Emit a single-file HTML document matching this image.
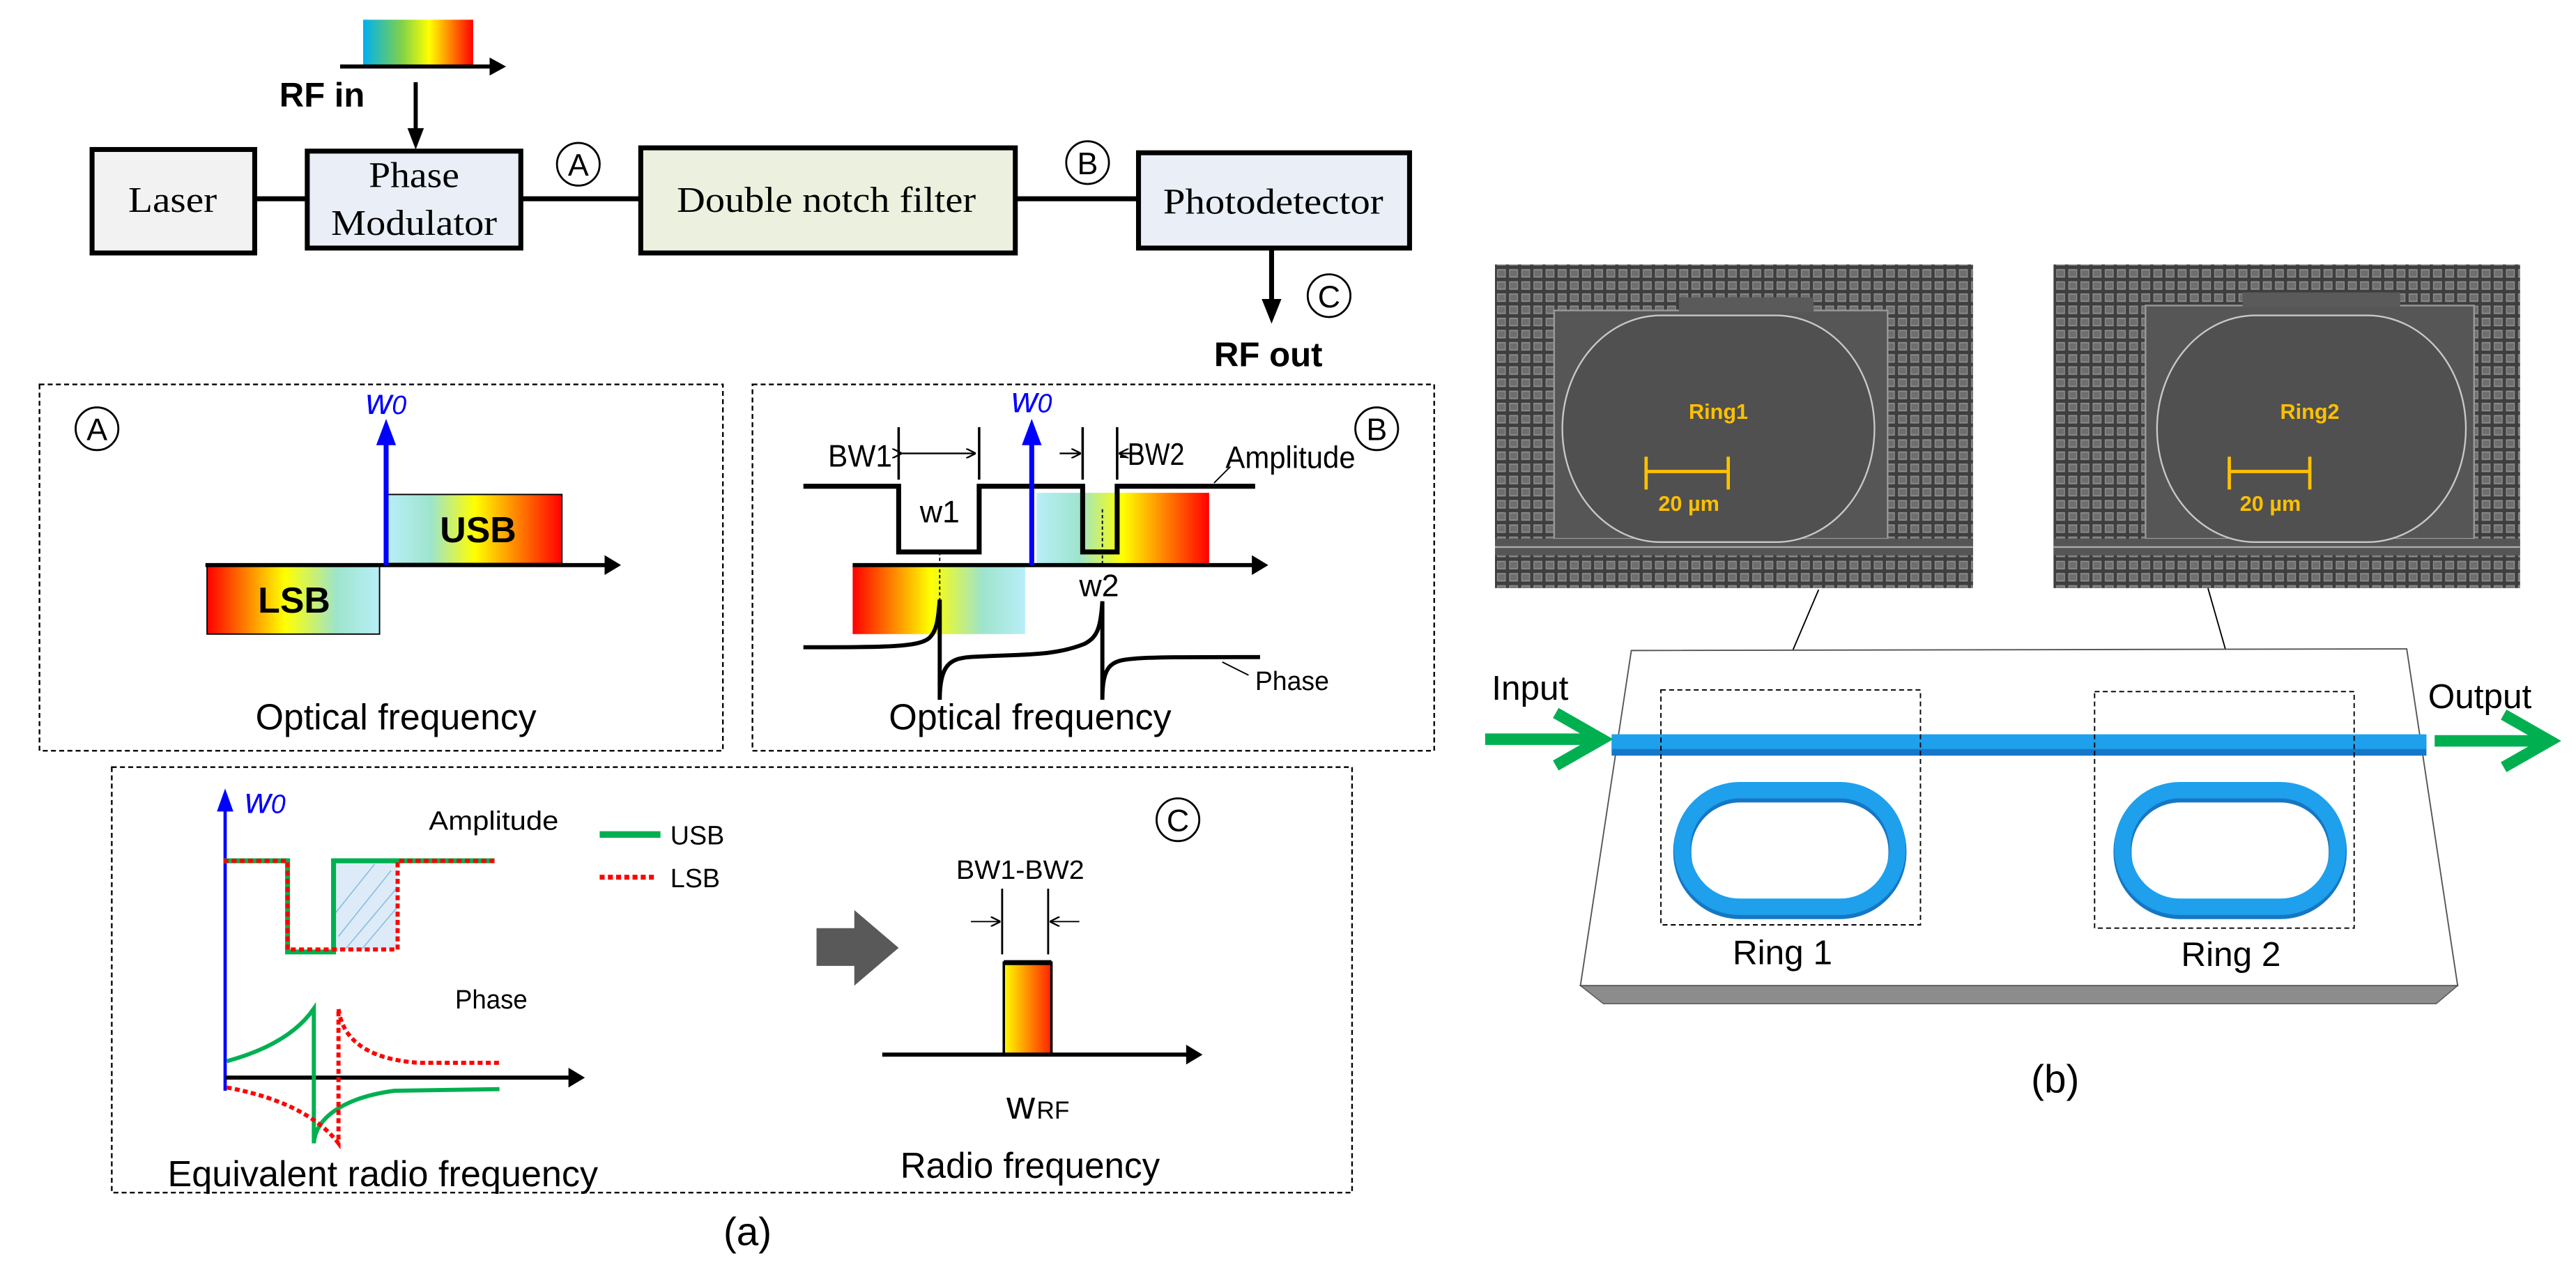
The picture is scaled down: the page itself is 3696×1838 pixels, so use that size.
<!DOCTYPE html>
<html><head><meta charset="utf-8"><style>
html,body{margin:0;padding:0;background:#fff;}
svg{display:block;}
text{font-family:"Liberation Sans Narrow","Liberation Sans",sans-serif;}
.serif{font-family:"Liberation Serif",serif;}
</style></head><body>
<svg width="3696" height="1838" viewBox="0 0 1568 779.8" xmlns="http://www.w3.org/2000/svg">
<defs>
<linearGradient id="rf" x1="0" x2="1"><stop offset="0" stop-color="#00b0f0"/><stop offset="0.35" stop-color="#7fd14a"/><stop offset="0.6" stop-color="#ffff00"/><stop offset="1" stop-color="#ff0000"/></linearGradient>
<linearGradient id="lsb" x1="0" x2="1"><stop offset="0" stop-color="#ff0000"/><stop offset="0.45" stop-color="#ffff00"/><stop offset="0.75" stop-color="#9ee4cc"/><stop offset="1" stop-color="#b8eef8"/></linearGradient>
<linearGradient id="usb" x1="0" x2="1"><stop offset="0" stop-color="#b8eef8"/><stop offset="0.25" stop-color="#9ee4cc"/><stop offset="0.5" stop-color="#ffff00"/><stop offset="1" stop-color="#ff0000"/></linearGradient>
<linearGradient id="pk" x1="0" x2="1"><stop offset="0" stop-color="#ffff00"/><stop offset="1" stop-color="#ff2000"/></linearGradient>
<pattern id="grid" width="7.4" height="7.4" patternUnits="userSpaceOnUse"><rect width="7.4" height="7.4" fill="#3e3e3e"/><rect x="1" y="1" width="5.4" height="5.2" fill="#8c8c8c"/><rect x="1.6" y="1.8" width="4.2" height="3.6" fill="#6e6e6e"/></pattern>
<marker id="sa" markerWidth="6" markerHeight="6" refX="6" refY="3" orient="auto" markerUnits="userSpaceOnUse"><path d="M0,0 L6,3 L0,6" fill="none" stroke="#000" stroke-width="1"/></marker>
</defs>

<rect x="221" y="12" width="67" height="28" fill="url(#rf)"/>
<line x1="207" y1="40.5" x2="300" y2="40.5" stroke="#000" stroke-width="2.5"/>
<path d="M298,35 L308,40.5 L298,46 z"/>
<text x="170" y="65" font-size="21" font-weight="bold" textLength="52" lengthAdjust="spacingAndGlyphs">RF in</text>
<line x1="253" y1="50" x2="253" y2="80" stroke="#000" stroke-width="2.5"/>
<path d="M248,78 L253,91 L258,78 z"/>

<line x1="155" y1="121" x2="692" y2="121" stroke="#000" stroke-width="3"/>
<rect x="56" y="91" width="99" height="63" fill="#f2f2f2" stroke="#000" stroke-width="3"/>
<rect x="187" y="92" width="130" height="59" fill="#e9eef7" stroke="#000" stroke-width="3"/>
<rect x="390" y="90" width="228" height="64" fill="#ebf1de" stroke="#000" stroke-width="3"/>
<rect x="693" y="93" width="165" height="58" fill="#e9eef7" stroke="#000" stroke-width="3"/>
<text class="serif" x="105" y="129" font-size="22" text-anchor="middle" textLength="54" lengthAdjust="spacingAndGlyphs">Laser</text>
<text class="serif" x="252" y="114" font-size="22" text-anchor="middle" textLength="55" lengthAdjust="spacingAndGlyphs">Phase</text>
<text class="serif" x="252" y="143" font-size="22" text-anchor="middle" textLength="101" lengthAdjust="spacingAndGlyphs">Modulator</text>
<text class="serif" x="503" y="129" font-size="22" text-anchor="middle" textLength="182" lengthAdjust="spacingAndGlyphs">Double notch filter</text>
<text class="serif" x="775" y="130" font-size="22" text-anchor="middle" textLength="134" lengthAdjust="spacingAndGlyphs">Photodetector</text>
<g fill="none" stroke="#000" stroke-width="1.2"><circle cx="352" cy="100" r="13"/><circle cx="662" cy="99" r="13"/><circle cx="809" cy="180" r="13"/></g>
<g font-size="19" text-anchor="middle"><text x="352" y="107">A</text><text x="662" y="106">B</text><text x="809" y="187">C</text></g>
<line x1="774" y1="151" x2="774" y2="184" stroke="#000" stroke-width="3"/>
<path d="M768,182 L774,197 L780,182 z"/>
<text x="772" y="223" font-size="21" font-weight="bold" text-anchor="middle" textLength="66" lengthAdjust="spacingAndGlyphs">RF out</text>

<g fill="none" stroke="#000" stroke-width="1" stroke-dasharray="3,2">
<rect x="24" y="234" width="416" height="223"/>
<rect x="458" y="234" width="415" height="223"/>
<rect x="68" y="467" width="755" height="259"/>
</g>

<circle cx="59" cy="261" r="13" fill="none" stroke="#000" stroke-width="1.2"/>
<text x="59" y="268" font-size="19" text-anchor="middle">A</text>
<rect x="236" y="301" width="106" height="42" fill="url(#usb)" stroke="#000" stroke-width="0.8"/>
<rect x="126" y="344" width="105" height="42" fill="url(#lsb)" stroke="#000" stroke-width="0.8"/>
<line x1="125" y1="344" x2="370" y2="344" stroke="#000" stroke-width="2.5"/>
<path d="M368,338 L378,344 L368,350 z"/>
<line x1="235" y1="344" x2="235" y2="268" stroke="#0000ff" stroke-width="3"/>
<path d="M229,271 L235,255 L241,271 z" fill="#0000ff"/>
<text x="235" y="252" font-size="22" font-style="italic" fill="#0000ff" text-anchor="middle">w<tspan font-size="16">0</tspan></text>
<text x="291" y="330" font-size="22" font-weight="bold" text-anchor="middle">USB</text>
<text x="179" y="373" font-size="22" font-weight="bold" text-anchor="middle">LSB</text>
<text x="241" y="444" font-size="22" text-anchor="middle" textLength="171" lengthAdjust="spacingAndGlyphs">Optical frequency</text>

<circle cx="838" cy="261" r="13" fill="none" stroke="#000" stroke-width="1.2"/>
<text x="838" y="268" font-size="19" text-anchor="middle">B</text>
<rect x="631" y="300" width="105" height="43" fill="url(#usb)"/>
<rect x="519" y="344" width="105" height="42" fill="url(#lsb)"/>
<line x1="519" y1="344" x2="764" y2="344" stroke="#000" stroke-width="2.5"/>
<path d="M762,338 L772,344 L762,350 z"/>
<polyline points="489,296 547,296 547,336 596,336 596,296 659,296 659,336 680,336 680,296 764,296" fill="none" stroke="#000" stroke-width="3"/>
<line x1="628" y1="344" x2="628" y2="268" stroke="#0000ff" stroke-width="3"/>
<path d="M622,271 L628,255 L634,271 z" fill="#0000ff"/>
<text x="628" y="251" font-size="22" font-style="italic" fill="#0000ff" text-anchor="middle">w<tspan font-size="16">0</tspan></text>
<g stroke="#000" stroke-width="0.8" stroke-dasharray="2,1.5"><line x1="572" y1="336" x2="572" y2="366"/><line x1="671" y1="310" x2="671" y2="343"/></g>
<g stroke="#000" stroke-width="1.5"><line x1="547" y1="260" x2="547" y2="292"/><line x1="596" y1="260" x2="596" y2="292"/><line x1="659" y1="260" x2="659" y2="292"/><line x1="680" y1="260" x2="680" y2="292"/></g>
<g stroke="#000" stroke-width="1"><line x1="549" y1="276" x2="594" y2="276" marker-end="url(#sa)" marker-start="url(#sa)" /><line x1="645" y1="276" x2="658" y2="276" marker-end="url(#sa)"/><line x1="695" y1="276" x2="681" y2="276" marker-end="url(#sa)"/></g>
<text x="504" y="284" font-size="19" textLength="39" lengthAdjust="spacingAndGlyphs">BW1</text>
<text x="681" y="283" font-size="19" textLength="40" lengthAdjust="spacingAndGlyphs">-BW2</text>
<text x="746" y="285" font-size="19" textLength="79" lengthAdjust="spacingAndGlyphs">Amplitude</text>
<line x1="739" y1="294" x2="749" y2="284" stroke="#000" stroke-width="0.8"/>
<text x="572" y="318" font-size="19" text-anchor="middle">w1</text>
<text x="669" y="363" font-size="19" text-anchor="middle">w2</text>
<path d="M489,394 C540,394 560,394 566,388 C570,384 571,378 572,365 L572,426 C572,405 578,401 590,400 C620,398 640,400 660,392 C668,388 670,382 671,366 L671,426 C671,405 676,402 690,401 C700,400 720,400 767,400" fill="none" stroke="#000" stroke-width="2.5"/>
<line x1="744" y1="403" x2="760" y2="411" stroke="#000" stroke-width="0.8"/>
<text x="764" y="420" font-size="16" textLength="45" lengthAdjust="spacingAndGlyphs">Phase</text>
<text x="627" y="444" font-size="22" text-anchor="middle" textLength="172" lengthAdjust="spacingAndGlyphs">Optical frequency</text>

<circle cx="717" cy="499" r="13" fill="none" stroke="#000" stroke-width="1.2"/>
<text x="717" y="506" font-size="19" text-anchor="middle">C</text>
<line x1="137" y1="664" x2="137" y2="490" stroke="#0000ff" stroke-width="2"/>
<path d="M132,494 L137,480 L142,494 z" fill="#0000ff"/>
<text x="149" y="495" font-size="22" font-style="italic" fill="#0000ff">w<tspan font-size="16">0</tspan></text>
<text x="261" y="505" font-size="16" textLength="79" lengthAdjust="spacingAndGlyphs">Amplitude</text>
<rect x="204" y="525" width="38" height="53" fill="#dcebf7"/>
<g stroke="#7fb8e0" stroke-width="0.6"><line x1="206" y1="570" x2="238" y2="530"/><line x1="210" y1="578" x2="242" y2="540"/><line x1="220" y1="578" x2="242" y2="552"/><line x1="204" y1="556" x2="228" y2="526"/></g>
<polyline points="136,524 175,524 175,579.5 203,579.5 203,524 301,524" fill="none" stroke="#00b050" stroke-width="3"/>
<polyline points="136,524 175,524 175,578 242,578 242,524 301,524" fill="none" stroke="#ff0000" stroke-width="2.5" stroke-dasharray="3,2"/>
<line x1="365" y1="508" x2="402" y2="508" stroke="#00b050" stroke-width="4"/>
<text x="408" y="514" font-size="16">USB</text>
<line x1="365" y1="534" x2="400" y2="534" stroke="#ff0000" stroke-width="3" stroke-dasharray="3,2"/>
<text x="408" y="540" font-size="16">LSB</text>
<text x="277" y="614" font-size="16" textLength="44" lengthAdjust="spacingAndGlyphs">Phase</text>
<line x1="137" y1="656" x2="348" y2="656" stroke="#000" stroke-width="2.5"/>
<path d="M346,650 L356,656 L346,662 z"/>
<path d="M138,646 C160,640 180,630 191,614 L191,696 C192,680 210,668 240,664 L304,663" fill="none" stroke="#00b050" stroke-width="2.5"/>
<path d="M138,662 C160,666 190,675 206,696 L206,614 C208,630 220,645 256,647 L304,647" fill="none" stroke="#ff0000" stroke-width="2.5" stroke-dasharray="3,2"/>
<text x="233" y="722" font-size="22" text-anchor="middle" textLength="262" lengthAdjust="spacingAndGlyphs">Equivalent radio frequency</text>
<path d="M497,565 L520,565 L520,554 L547,577 L520,600 L520,588 L497,588 z" fill="#595959"/>
<text x="621" y="535" font-size="16" text-anchor="middle" textLength="78" lengthAdjust="spacingAndGlyphs">BW1-BW2</text>
<g stroke="#000" stroke-width="1.2"><line x1="610" y1="541" x2="610" y2="581"/><line x1="638" y1="541" x2="638" y2="581"/></g>
<g stroke="#000" stroke-width="0.8"><line x1="591" y1="561" x2="609" y2="561" marker-end="url(#sa)"/><line x1="657" y1="561" x2="639" y2="561" marker-end="url(#sa)"/></g>
<rect x="611" y="586" width="29" height="56" fill="url(#pk)" stroke="#000" stroke-width="1.5"/>
<line x1="611" y1="586" x2="640" y2="586" stroke="#000" stroke-width="3"/>
<line x1="537" y1="642" x2="724" y2="642" stroke="#000" stroke-width="2.5"/>
<path d="M722,636 L732,642 L722,648 z"/>
<text x="630" y="681" font-size="24" text-anchor="end">w</text><text x="631" y="681" font-size="15">RF</text>
<text x="627" y="717" font-size="22" text-anchor="middle" textLength="158" lengthAdjust="spacingAndGlyphs">Radio frequency</text>
<text x="455" y="758" font-size="24" text-anchor="middle">(a)</text>

<rect x="910" y="161" width="291" height="197" fill="url(#grid)"/>
<rect x="946" y="189" width="203" height="139" fill="#565656" stroke="#9a9a9a" stroke-width="1"/>
<rect x="1022" y="181" width="82" height="9" fill="#5a5a5a"/>
<rect x="910" y="328" width="291" height="10" fill="#555"/>
<line x1="910" y1="333" x2="1201" y2="333" stroke="#aaa" stroke-width="1"/>
<rect x="951" y="192" width="190" height="138" rx="60" ry="69" fill="#505050" stroke="#c8c8c8" stroke-width="1"/>
<text x="1046" y="255" font-size="13" font-weight="bold" fill="#ffc000" text-anchor="middle">Ring1</text>
<g stroke="#ffc000" stroke-width="2"><line x1="1002" y1="287" x2="1052" y2="287"/><line x1="1002" y1="278" x2="1002" y2="298"/><line x1="1052" y1="278" x2="1052" y2="298"/></g>
<text x="1028" y="311" font-size="13" font-weight="bold" fill="#ffc000" text-anchor="middle">20 µm</text>

<rect x="1250" y="161" width="284" height="197" fill="url(#grid)"/>
<rect x="1306" y="186" width="200" height="142" fill="#565656" stroke="#9a9a9a" stroke-width="1"/>
<rect x="1365" y="178" width="96" height="9" fill="#5a5a5a"/>
<rect x="1250" y="328" width="284" height="10" fill="#555"/>
<line x1="1250" y1="333" x2="1534" y2="333" stroke="#aaa" stroke-width="1"/>
<rect x="1313" y="192" width="188" height="138" rx="60" ry="69" fill="#505050" stroke="#c8c8c8" stroke-width="1"/>
<text x="1406" y="255" font-size="13" font-weight="bold" fill="#ffc000" text-anchor="middle">Ring2</text>
<g stroke="#ffc000" stroke-width="2"><line x1="1357" y1="287" x2="1406" y2="287"/><line x1="1357" y1="278" x2="1357" y2="298"/><line x1="1406" y1="278" x2="1406" y2="298"/></g>
<text x="1382" y="311" font-size="13" font-weight="bold" fill="#ffc000" text-anchor="middle">20 µm</text>

<g stroke="#000" stroke-width="0.8"><line x1="1107" y1="359" x2="1081" y2="420"/><line x1="1344" y1="358" x2="1362" y2="421"/></g>

<path d="M962,600 L976,611 L1483,611 L1496,600 z" fill="#8c8c8c" stroke="#555" stroke-width="0.6"/>
<path d="M993,396 L1465,395 L1496,600 L962,600 z" fill="#fff" stroke="#555" stroke-width="0.8"/>
<rect x="981" y="451" width="496" height="9" fill="#1477c8"/>
<rect x="981" y="447" width="496" height="9" fill="#1ea0ec"/>
<rect x="1024" y="483" width="131" height="71" rx="35" fill="none" stroke="#1577c4" stroke-width="11"/>
<rect x="1024" y="481" width="131" height="71" rx="35" fill="none" stroke="#1ea0ec" stroke-width="10"/>
<rect x="1292" y="483" width="131" height="71" rx="35" fill="none" stroke="#1577c4" stroke-width="11"/>
<rect x="1292" y="481" width="131" height="71" rx="35" fill="none" stroke="#1ea0ec" stroke-width="10"/>
<g fill="none" stroke="#000" stroke-width="0.8" stroke-dasharray="3,2"><rect x="1011" y="420" width="158" height="143"/><rect x="1275" y="421" width="158" height="144"/></g>
<text x="1085" y="587" font-size="21" text-anchor="middle">Ring 1</text>
<text x="1358" y="588" font-size="21" text-anchor="middle">Ring 2</text>
<text x="908" y="426" font-size="21">Input</text>
<text x="1478" y="431" font-size="21">Output</text>
<line x1="904" y1="450" x2="968" y2="450" stroke="#00b050" stroke-width="7"/>
<polyline points="947,434 975,450 947,466" fill="none" stroke="#00b050" stroke-width="7"/>
<line x1="1482" y1="451" x2="1546" y2="451" stroke="#00b050" stroke-width="7"/>
<polyline points="1524,435 1552,451 1524,467" fill="none" stroke="#00b050" stroke-width="7"/>
<text x="1251" y="665" font-size="24" text-anchor="middle">(b)</text>
</svg>
</body></html>
